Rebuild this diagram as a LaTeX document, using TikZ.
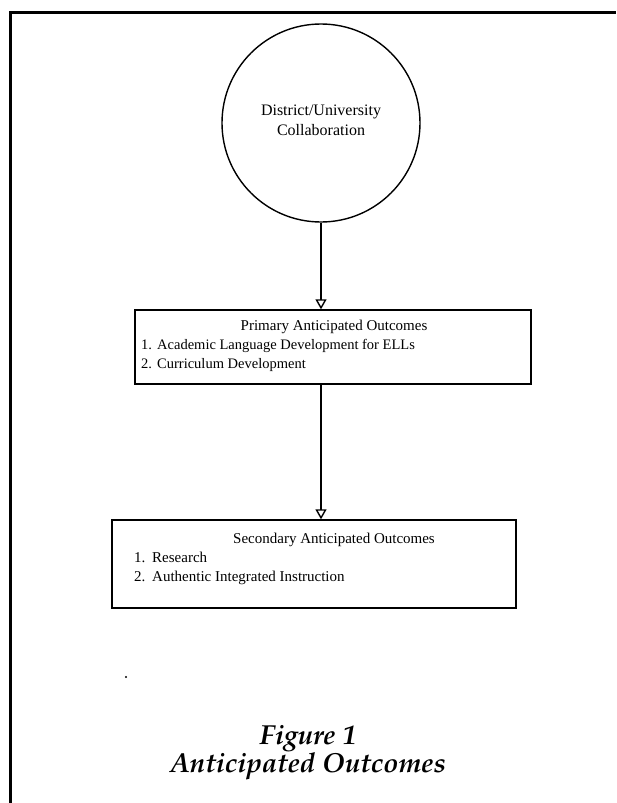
\documentclass[tikz,border=0pt]{standalone}
\usepackage{fontspec}
\setmainfont{Liberation Serif}
\usetikzlibrary{arrows.meta}
\newcommand{\capfont}{\fontencoding{OT1}\fontfamily{ppl}\fontseries{b}\fontshape{it}\fontsize{27.5}{30}\selectfont}
\begin{document}
\begin{tikzpicture}[x=1pt,y=-1pt,
  body/.style={font=\fontsize{15}{19}\selectfont, inner sep=0pt},
  bodysm/.style={font=\fontsize{14.5}{19}\selectfont, inner sep=0pt},
  circtext/.style={font=\fontsize{16}{20}\selectfont, inner sep=0pt, align=center},
  boxframe/.style={draw, line width=1.4pt, inner sep=0pt},
  flow/.style={line width=2.4pt, -{Triangle[open, length=10pt, width=11pt, line width=1.4pt]}},
  frameline/.style={line width=3pt}]
\useasboundingbox (0,0) rectangle (616,803);
% outer frame (top and left only)
\coordinate (ftl) at (10,12);
\coordinate (ftr) at (616,12);
\coordinate (fbl) at (10,803);
\draw[frameline] (fbl) -- (ftl) -- (ftr);
% source circle
\node[circle, draw, line width=1.4pt, minimum size=198pt, inner sep=0pt] (src) at (321,123) {};
\node[circtext] (srct) at (321,120) {District/University\\Collaboration};
% primary box
\node[boxframe, minimum width=396pt, minimum height=74pt] (prim) at (333,347) {};
\node[body, anchor=base] (primt) at (334,330) {Primary Anticipated Outcomes};
\node[bodysm, anchor=base west] (pn1) at (141,349) {1.};
\node[bodysm, anchor=base west] (pi1) at (157,349) {Academic Language Development for ELLs};
\node[bodysm, anchor=base west] (pn2) at (141,368) {2.};
\node[bodysm, anchor=base west] (pi2) at (157,368) {Curriculum Development};
% secondary box
\node[boxframe, minimum width=404pt, minimum height=88pt] (sec) at (314,564) {};
\node[body, anchor=base] (sect) at (334,543) {Secondary Anticipated Outcomes};
\node[body, anchor=base west] (sn1) at (134,562) {1.};
\node[body, anchor=base west] (si1) at (152,562) {Research};
\node[body, anchor=base west] (sn2) at (134,581) {2.};
\node[body, anchor=base west] (si2) at (152,581) {Authentic Integrated Instruction};
% connectors
\draw[flow] (src.south) -- (src.south |- prim.north);
\draw[flow] (prim.south -| src.south) -- (sec.north -| src.south);
% stray dot
\fill (126,677) circle (1.2pt);
% caption
\node[inner sep=0pt, anchor=base] (cap1) at (308,744) {\capfont Figure 1};
\node[inner sep=0pt, anchor=base] (cap2) at (308,772) {\capfont Anticipated Outcomes};
\end{tikzpicture}
\end{document}
